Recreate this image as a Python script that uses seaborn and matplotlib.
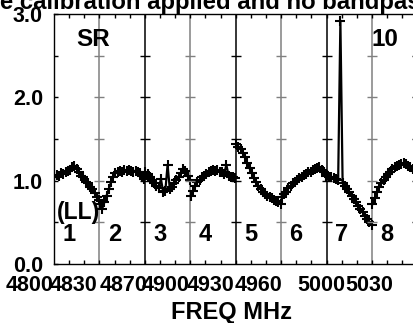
import numpy as np
import pandas as pd
import seaborn as sns
import matplotlib.pyplot as plt
from matplotlib.ticker import MultipleLocator

plt.rcParams['font.family'] = ['Liberation Sans', 'DejaVu Sans']
plt.rcParams['font.weight'] = 'bold'

# amplitude per channel, one list per subband
sb1 = [1.04, 1.07, 1.06, 1.09, 1.08, 1.11, 1.12, 1.13, 1.16, 1.18, 1.14,
       1.11, 1.06, 1.04, 0.99, 0.97, 0.92, 0.90, 0.85, 0.81, 0.77]
sb2 = [0.72, 0.66, 0.74, 0.82, 0.90, 0.98, 1.05, 1.09, 1.11, 1.12, 1.11,
       1.13, 1.12, 1.13, 1.12, 1.11, 1.12, 1.10, 1.09, 1.06, 1.02]
sb3 = [1.10, 1.08, 1.04, 1.01, 0.97, 0.94, 0.91, 1.02, 0.87, 0.88, 1.19,
       0.90, 0.93, 0.97, 1.01, 1.05, 1.09, 1.14, 1.12, 1.06, 1.01]
sb4 = [0.82, 0.88, 0.94, 0.98, 1.01, 1.04, 1.06, 1.08, 1.10, 1.12, 1.13,
       1.12, 1.13, 1.11, 1.10, 1.08, 1.19, 1.06, 1.05, 1.04, 1.03]
sb5 = [1.44, 1.41, 1.38, 1.33, 1.28, 1.21, 1.15, 1.09, 1.03, 0.98, 0.94,
       0.90, 0.87, 0.84, 0.82, 0.80, 0.79, 0.77, 0.76, 0.74, 0.72]
sb6 = [0.80, 0.84, 0.87, 0.91, 0.94, 0.97, 0.99, 1.01, 1.03, 1.05, 1.07,
       1.08, 1.10, 1.11, 1.13, 1.14, 1.15, 1.16, 1.13, 1.10, 1.06]
sb7 = [1.07, 1.05, 1.04, 1.03, 1.02, 1.01, 2.92, 0.97, 0.94, 0.90, 0.86,
       0.82, 0.78, 0.74, 0.70, 0.66, 0.62, 0.58, 0.54, 0.51, 0.47]
sb8 = [0.72, 0.79, 0.86, 0.92, 0.97, 1.01, 1.05, 1.08, 1.11, 1.14, 1.16,
       1.18, 1.19, 1.20, 1.21, 1.20, 1.18, 1.16, 1.14, 1.12, 1.10]
subbands = [sb1, sb2, sb3, sb4, sb5, sb6, sb7, sb8]
sb_labels = ['1', '2', '3', '4', '5', '6', '7', '8']
freq_labels = ['4800', '4830', '4870', '4900', '4930', '4960', '5000', '5030']
freq_pos = [0, 0.95, 2.05, 2.99, 3.98, 5.02, 6.41, 7.46]

rows = []
for i, vals in enumerate(subbands):
    xs = i + np.linspace(0.01, 0.99, len(vals))
    for x, v in zip(xs, vals):
        rows.append((i + 1, x, v))
df = pd.DataFrame(rows, columns=['subband', 'chan', 'amp'])

fig = plt.figure(figsize=(4.14, 3.23), dpi=100)
ax = fig.add_axes([54/414, 59/323, 9*45.43/414, 250/323])

sns.lineplot(data=df, x='chan', y='amp', units='subband', estimator=None,
             color='black', lw=1.6, marker='+', markersize=7,
             markeredgewidth=1.5, markeredgecolor='black', ax=ax, legend=False)

ax.set_xlim(0, 9)
ax.set_ylim(0, 3)

# subband separators with small ticks
for b in range(1, 9):
    c = '#808080' if b % 2 == 1 else 'black'
    ax.axvline(b, color=c, lw=1.1, zorder=1)
    ax.plot([b] * 5, [0.5, 1.0, 1.5, 2.0, 2.5], ls='none', marker='_',
            ms=7, mew=1, color=c)

ax.set_yticks([0, 1, 2, 3], ['0.0', '1.0', '2.0', '3.0'])
ax.yaxis.set_minor_locator(MultipleLocator(0.5))
ax.tick_params(axis='y', which='both', direction='in', length=3, width=1,
               left=True, right=False, labelsize=15.5, pad=8)
ax.set_xticks(freq_pos, freq_labels, ha='right')
ax.xaxis.set_minor_locator(MultipleLocator(1/3))
ax.tick_params(axis='x', which='major', length=0, labelsize=15.5, pad=8)
ax.tick_params(axis='x', which='minor', direction='in', length=3, width=1,
               top=True, bottom=True)
for s in ax.spines.values():
    s.set_linewidth(1)

ax.set_xlabel('FREQ MHz', fontsize=17, fontweight='bold')
ax.xaxis.set_label_coords(0.433, -0.15)
ax.set_ylabel('')

ax.text(0.86, 2.69, 'SR', ha='center', va='center', fontsize=17.5, fontweight='bold')
ax.text(7.29, 2.69, '10', ha='center', va='center', fontsize=17.5, fontweight='bold')
ax.text(0.53, 0.62, '(LL)', ha='center', va='center', fontsize=16.5, fontweight='bold')
for i, lab in enumerate(sb_labels):
    ax.text(i + 0.33, 0.35, lab, ha='center', va='center', fontsize=17, fontweight='bold')

fig.text(0.0, 1 - 9.3/323, 'e calibration applied and no bandpass', ha='left',
         va='baseline', fontsize=17.2, fontweight='bold')

fig.savefig('out.png', dpi=100)
